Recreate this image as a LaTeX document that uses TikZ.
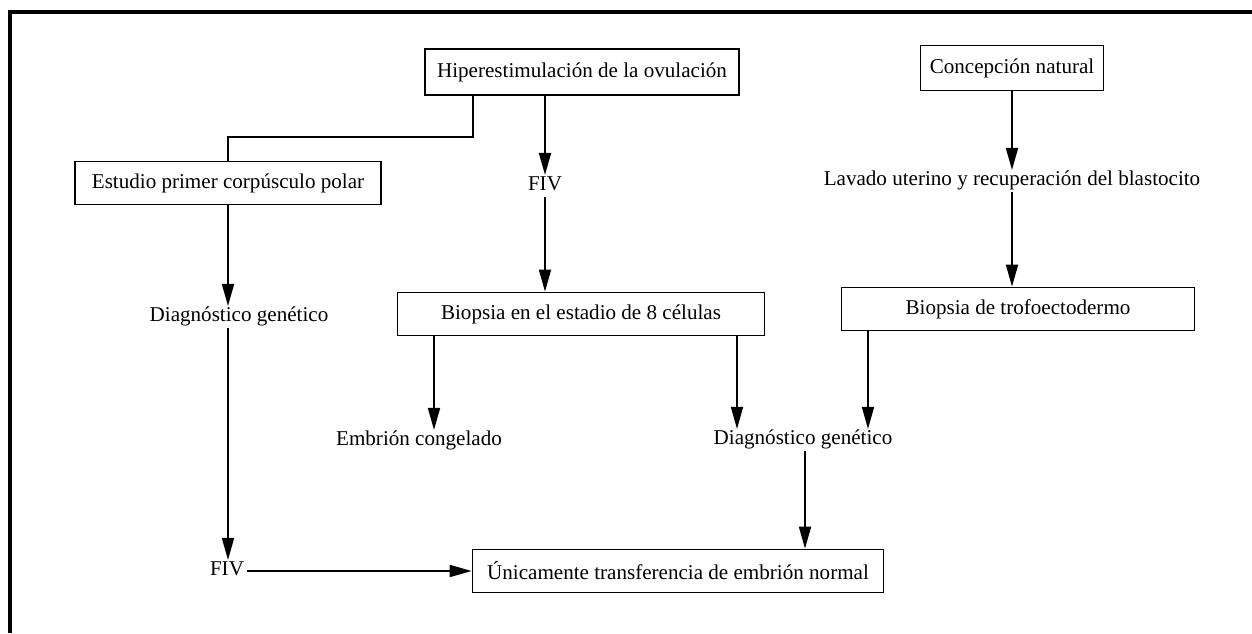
\documentclass[tikz,border=0pt]{standalone}
\usepackage{fontspec}
\setmainfont{Liberation Serif}
\usepackage{tikz}
\usetikzlibrary{arrows.meta, positioning}

\begin{document}
\begin{tikzpicture}[
    x=0.02cm, y=-0.02cm,
    caja/.style={rectangle, draw, line width=1pt, inner sep=0pt,
                 minimum width=#1, minimum height=0.86cm,
                 font=\fontsize{12}{14}\selectfont},
    etiq/.style={inner sep=1.5pt, text height=1.6ex, text depth=0.4ex,
                 font=\fontsize{12}{14}\selectfont},
    linea/.style={line width=1pt},
    flecha/.style={linea, -{Triangle[length=4.4mm, width=2.4mm]}},
    marco/.style={line width=2pt},
  ]
    \useasboundingbox (0,0) rectangle (1252,633);
    \draw[marco] (10,633) -- (10,12) -- (1252,12);

    % cajas
    \node[caja=6.28cm, minimum height=0.92cm] (hiper) at (582,72)
      {Hiperestimulación de la ovulación};
    \node[caja=3.66cm, minimum height=0.9cm] (concep) at (1012,68)
      {Concepción natural};
    \node[caja=6.12cm] (estudio) at (228,183)
      {Estudio primer corpúsculo polar};
    \node[caja=7.34cm] (biopA) at (581,314)
      {Biopsia en el estadio de 8 células};
    \node[caja=7.06cm] (trofo) at (1018,309)
      {Biopsia de trofoectodermo};
    \node[caja=8.22cm] (unica) at (678,571)
      {Únicamente transferencia de embrión normal};

    % textos sueltos
    \node[etiq] (fivA) at (545,186) {FIV};
    \node[etiq] (lavado) at (1012,181)
      {Lavado uterino y recuperación del blastocito};
    \node[etiq] (diagA) at (239,317) {Diagnóstico genético};
    \node[etiq] (embrion) at (419,441) {Embrión congelado};
    \node[etiq] (diagB) at (803,440) {Diagnóstico genético};
    \node[etiq] (fivB) at (227,571) {FIV};

    \coordinate (codo) at (473,137);
    \coordinate (colA) at (434,0);
    \coordinate (colB) at (737,0);
    \coordinate (colC) at (868,0);
    \coordinate (colD) at (805,0);

    \draw[linea] (hiper.south -| codo) -- (codo) -| (estudio.north);
    \draw[flecha] (hiper.south -| fivA) -- (fivA);
    \draw[flecha] (fivA) -- (biopA.north -| fivA);
    \draw[flecha] (concep) -- (lavado);
    \draw[flecha] (lavado.south) -- (trofo.north -| lavado.south);
    \draw[flecha] (estudio.south) -- (diagA.north -| estudio.south);
    \draw[flecha] (diagA.south -| estudio.south) -- (fivB.north -| estudio.south);
    \draw[flecha] (fivB) -- (unica);
    \draw[flecha] (biopA.south -| colA) -- (embrion.north -| colA);
    \draw[flecha] (biopA.south -| colB) -- (diagB.north -| colB);
    \draw[flecha] (trofo.south -| colC) -- (diagB.north -| colC);
    \draw[flecha] (diagB.south -| colD) -- (unica.north -| colD);
  \end{tikzpicture}
\end{document}
